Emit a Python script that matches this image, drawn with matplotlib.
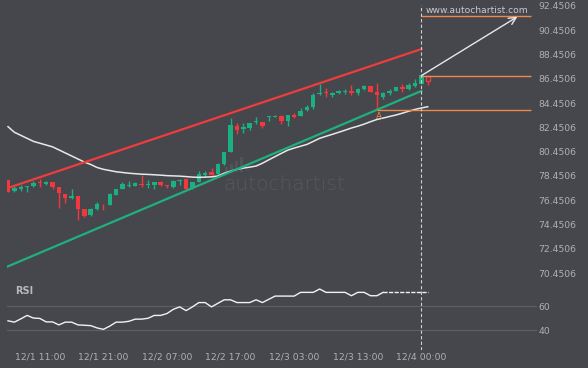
import matplotlib
matplotlib.use('Agg')
import matplotlib.pyplot as plt
from matplotlib.patches import Rectangle
import numpy as np

# ---------------- data ----------------
opens = [78.12, 77.24, 77.35, 77.55, 77.63, 77.98, 77.79, 77.96, 77.52, 77.00,
         76.67, 76.81, 75.76, 75.24, 75.74, 76.17, 76.07, 76.89, 77.38, 77.65,
         77.65, 77.79, 77.74, 77.71, 77.96, 77.69, 77.52, 78.04, 78.18, 77.44,
         77.96, 78.54, 78.80, 78.61, 79.44, 80.45, 82.56, 82.29, 82.38, 82.89,
         82.87, 83.28, 83.28, 83.40, 83.00, 83.47, 83.41, 83.88, 84.15, 85.20,
         85.34, 85.14, 85.26, 85.34, 85.45, 85.26, 85.61, 85.86, 85.36, 84.98,
         85.26, 85.47, 85.75, 85.61, 85.88, 86.02, 86.71]
highs = [78.12, 77.71, 77.71, 77.62, 78.04, 78.20, 78.04, 77.96, 77.52, 77.00,
         77.36, 76.81, 75.76, 75.82, 76.31, 76.17, 77.05, 77.41, 77.98, 78.04,
         77.98, 78.51, 78.12, 77.98, 78.04, 77.69, 78.12, 78.20, 78.20, 77.98,
         78.86, 78.86, 79.08, 79.49, 80.45, 83.25, 82.84, 82.79, 82.84, 83.28,
         82.87, 83.39, 83.47, 83.45, 83.50, 83.61, 84.07, 84.32, 85.26, 86.02,
         85.67, 85.34, 85.53, 85.59, 85.94, 85.67, 85.94, 85.88, 86.08, 85.39,
         85.61, 85.80, 86.02, 86.08, 86.41, 86.76, 86.71]
lows = [77.16, 77.16, 77.21, 77.16, 77.52, 77.52, 77.74, 77.35, 75.85, 76.20,
        76.53, 74.83, 75.05, 75.19, 75.68, 75.65, 76.05, 76.89, 77.38, 77.57,
        77.63, 77.57, 77.49, 77.36, 77.63, 77.44, 77.44, 77.71, 77.41, 77.36,
        77.96, 78.39, 78.53, 78.53, 79.36, 80.45, 81.88, 81.96, 82.24, 82.73,
        82.38, 83.00, 83.28, 82.73, 82.59, 83.20, 83.41, 83.80, 83.94, 85.12,
        84.93, 84.98, 85.20, 85.20, 85.12, 85.12, 85.53, 85.36, 83.88, 84.76,
        85.12, 85.44, 85.39, 85.53, 85.80, 86.02, 85.94]
closes = [77.16, 77.44, 77.52, 77.60, 77.90, 77.85, 77.98, 77.57, 77.03, 76.67,
          76.81, 75.71, 75.16, 75.76, 76.15, 76.12, 77.00, 77.41, 77.79, 77.71,
          77.85, 77.68, 77.79, 77.98, 77.69, 77.63, 78.04, 78.12, 77.41, 77.93,
          78.61, 78.72, 78.53, 79.41, 80.45, 82.65, 82.24, 82.45, 82.79, 82.95,
          82.56, 83.39, 83.41, 82.95, 83.47, 83.33, 83.82, 84.15, 85.12, 85.26,
          85.26, 85.26, 85.45, 85.45, 85.26, 85.59, 85.86, 85.36, 85.14, 85.31,
          85.47, 85.75, 85.59, 85.94, 86.08, 86.76, 86.28]

moving_avg = [82.51, 82.05, 81.80, 81.55, 81.30, 81.15, 81.00, 80.85, 80.60, 80.35,
              80.10, 79.85, 79.60, 79.40, 79.15, 79.00, 78.90, 78.80, 78.74, 78.68,
              78.64, 78.60, 78.58, 78.55, 78.52, 78.48, 78.46, 78.44, 78.40, 78.36,
              78.34, 78.36, 78.38, 78.45, 78.68, 78.85, 79.00, 79.10, 79.18, 79.27,
              79.50, 79.78, 80.05, 80.32, 80.58, 80.75, 80.90, 81.05, 81.30, 81.55,
              81.72, 81.88, 82.05, 82.22, 82.40, 82.55, 82.72, 82.92, 83.10, 83.22,
              83.35, 83.47, 83.62, 83.78, 83.93, 84.05, 84.15]

rsi = [47.9, 46.8, 49.5, 52.4, 50.2, 49.9, 47.0, 47.0, 44.5, 46.8,
       46.8, 44.5, 44.2, 43.9, 42.0, 40.8, 43.5, 46.8, 46.8, 47.5,
       49.3, 49.3, 50.0, 52.4, 52.4, 54.0, 57.5, 59.5, 56.4, 59.5,
       63.1, 63.1, 59.5, 62.5, 65.4, 65.4, 63.1, 63.1, 63.1, 65.4,
       63.1, 65.8, 68.5, 68.5, 68.5, 68.5, 71.6, 71.6, 71.6, 74.4,
       71.6, 71.6, 71.6, 71.6, 68.8, 71.6, 71.6, 68.8, 68.8, 71.6,
       71.6, 71.6, 71.6, 71.6, 71.6, 71.6, 71.6]

# channel (resistance / support) end points: candle index, price
channel_idx = [-0.16, 65]
resistance_vals = [77.44, 88.90]
support_vals = [70.98, 85.45]

# horizontal levels
target_level = 91.62
entry_level = 86.71
low_level = 83.85
low_level_start = 58
level_end = 82.2
signal_idx = 65
arrow_end_idx = 80.1
arrow_end_val = 91.56
marker_idx = 58.4
marker_val = 83.33

x_tick_idx = [5, 15, 25, 35, 45, 55, 65]
x_tick_labels = ['12/1 11:00', '12/1 21:00', '12/2 07:00', '12/2 17:00',
                 '12/3 03:00', '12/3 13:00', '12/4 00:00']
price_ticks = [70.4506, 72.4506, 74.4506, 76.4506, 78.4506, 80.4506,
               82.4506, 84.4506, 86.4506, 88.4506, 90.4506, 92.4506]
rsi_ticks = [40, 60]

# ---------------- style ----------------
BG = '#45474c'
GREEN = '#1bb07f'
RED = '#f2383d'
ORANGE = '#f0884b'
TXT = '#adb0b5'
GRID = '#5c5f64'

W, H = 588, 368
fig = plt.figure(figsize=(W / 100, H / 100), dpi=100, facecolor=BG)


def fx(px):
    return px / W


def fy(py):
    return 1 - py / H


ax = fig.add_axes([fx(7), fy(283), fx(537) - fx(7), fy(5) - fy(283)])
rx = fig.add_axes([fx(7), fy(350), fx(537) - fx(7), fy(283) - fy(350)], sharex=ax)
for a in (ax, rx):
    a.set_facecolor(BG)
    for s in a.spines.values():
        s.set_visible(False)

# watermark logo bars (decoration, figure pixel space)
for bx, btop in [(225, 167), (230, 164), (234.5, 161), (239.5, 157)]:
    ax.add_patch(Rectangle((fx(bx), fy(172)), fx(3.2), fy(btop) - fy(172),
                           transform=fig.transFigure, facecolor='#505358',
                           edgecolor='none', zorder=0.4))
ax.text(0.523, 0.356, 'autochartist', transform=ax.transAxes, fontsize=14.5,
        color='#55585d', ha='center', va='center', zorder=0.5, family='DejaVu Sans',
        fontweight='light')

o = np.array(opens); h = np.array(highs); l = np.array(lows); c = np.array(closes)
idx = np.arange(len(o))
cols = np.where(c >= o, GREEN, RED)
n = len(o) - 1  # last candle drawn hollow

ax.vlines(idx[:n], l[:n], h[:n], colors=cols[:n], lw=1.0, zorder=2)
body_bottom = np.minimum(o, c)
body_h = np.maximum(np.abs(c - o), 0.05)
ax.bar(idx[:n], body_h[:n], bottom=body_bottom[:n], width=0.7, color=cols[:n],
       linewidth=0, zorder=2)
ax.vlines(idx[n], l[n], min(o[n], c[n]), colors=RED, lw=1.0, zorder=2)
ax.bar(idx[n], abs(c[n] - o[n]), bottom=min(o[n], c[n]), width=0.6,
       facecolor='none', edgecolor=RED, lw=1.0, zorder=2)

# moving average
ax.plot(idx, moving_avg, color='#e8e8e8', lw=1.1, zorder=3)

# channel
ax.plot(channel_idx, resistance_vals, color='#f03c3c', lw=1.6, zorder=3)
ax.plot(channel_idx, support_vals, color='#1fb07e', lw=1.6, zorder=3)

# levels
ax.hlines([target_level, entry_level], signal_idx, level_end, colors=ORANGE, lw=1.0, zorder=3)
ax.hlines(low_level, low_level_start, level_end, colors=ORANGE, lw=1.0, zorder=3)
ax.text(marker_idx, marker_val, 'A', color=ORANGE, fontsize=6.5, ha='center', va='center',
        zorder=4)

# arrow
ax.annotate('', xy=(arrow_end_idx, arrow_end_val), xytext=(signal_idx, entry_level),
            arrowprops=dict(arrowstyle='->', color='#e8e8e8', lw=1.0, mutation_scale=13,
                            shrinkA=0, shrinkB=0), zorder=4)

# vertical dashed line
for a in (ax, rx):
    a.axvline(signal_idx, color='#cfcfcf', lw=0.8, ls=(0, (3, 2)), zorder=5)

ax.set_xlim(-0.16, 83.18)
ax.set_ylim(92.936 - 283 / 12.15, 92.936 - 5 / 12.15)
ax.yaxis.tick_right()
ax.set_yticks(price_ticks)
ax.set_yticklabels(['%.4f' % t for t in price_ticks])
ax.tick_params(axis='y', length=0, pad=1, labelsize=6.7, labelcolor=TXT)
ax.tick_params(axis='x', bottom=False, labelbottom=False)

# RSI panel
rx.plot(idx[:60], rsi[:60], color='#f2f2f2', lw=1.0, zorder=3)
rx.plot(idx[59:], rsi[59:], color='#f2f2f2', lw=1.0, ls=(0, (3, 1)), zorder=3)
rx.set_ylim(23.6, 79.4)
rx.yaxis.tick_right()
rx.set_yticks(rsi_ticks)
rx.grid(axis='y', color=GRID, lw=0.8)
rx.tick_params(axis='y', length=0, pad=1, labelsize=6.7, labelcolor=TXT)
rx.set_xticks(x_tick_idx)
rx.set_xticklabels(x_tick_labels)
rx.tick_params(axis='x', length=0, pad=2, labelsize=6.7, labelcolor=TXT)

fig.text(fx(15), fy(291), 'RSI', fontsize=7, fontweight='bold', color='#b5b8bd',
         va='center', ha='left')
fig.text(fx(476.7), fy(10.7), 'www.autochartist.com', fontsize=6.6, color='#c9cbce',
         ha='center', va='center')

fig.savefig('out.png', dpi=100, facecolor=BG)
